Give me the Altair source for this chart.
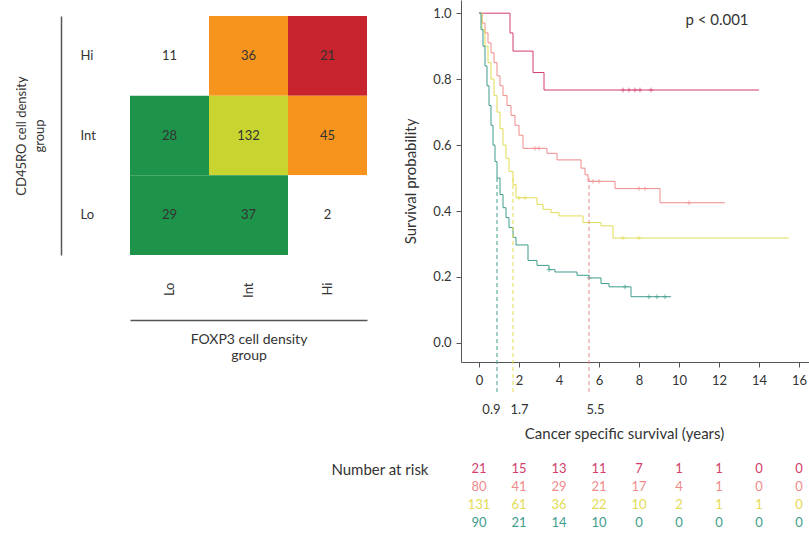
import altair as alt
import pandas as pd

FONT = "Lato"
TXT = "#333333"
FS = 13

# ---------------- Heatmap data ----------------
foxp3_levels = ["Lo", "Int", "Hi"]
cd45ro_levels = ["Hi", "Int", "Lo"]
cell_foxp3 = ["Lo", "Int", "Hi", "Lo", "Int", "Hi", "Lo", "Int", "Hi"]
cell_cd45ro = ["Hi", "Hi", "Hi", "Int", "Int", "Int", "Lo", "Lo", "Lo"]
cell_counts = [11, 36, 21, 28, 132, 45, 29, 37, 2]
cell_group = ["none", "G2", "G1", "G4", "G3", "G2", "G4", "G4", "none"]

# ---------------- Kaplan-Meier data ----------------
group_names = ["G1", "G2", "G3", "G4"]
group_colors = ["#d23d6a", "#ee8b8b", "#e2dc55", "#3f9d8c"]

g1_time = [0, 1.55, 1.7, 2.7, 3.25, 14.0]
g1_surv = [1.0, 0.94, 0.885, 0.82, 0.767, 0.767]

g2_time = [0, 0.15, 0.3, 0.45, 0.6, 0.75, 0.9, 1.05, 1.2, 1.4, 1.6, 1.8, 2.0, 2.2,
           3.4, 3.9, 5.1, 5.3, 5.45, 6.8, 9.05, 12.3]
g2_surv = [1.0, 0.97, 0.94, 0.91, 0.88, 0.85, 0.81, 0.78, 0.75, 0.72, 0.69, 0.66, 0.63, 0.59,
           0.575, 0.555, 0.53, 0.51, 0.49, 0.468, 0.425, 0.425]

g3_time = [0, 0.15, 0.3, 0.45, 0.6, 0.75, 0.9, 1.05, 1.2, 1.35, 1.5, 1.7, 1.85, 2.9, 3.2,
           3.6, 4.0, 5.2, 6.1, 6.7, 15.5]
g3_surv = [1.0, 0.95, 0.9, 0.85, 0.8, 0.75, 0.7, 0.65, 0.6, 0.56, 0.52, 0.48, 0.44, 0.42, 0.405,
           0.395, 0.385, 0.365, 0.355, 0.318, 0.318]

g4_time = [0, 0.1, 0.2, 0.3, 0.4, 0.5, 0.6, 0.7, 0.8, 0.9, 1.05, 1.2, 1.35, 1.5, 1.7, 1.85,
           2.45, 2.9, 3.5, 3.8, 4.9, 5.5, 6.1, 6.5, 7.6, 9.6]
g4_surv = [1.0, 0.95, 0.9, 0.84, 0.78, 0.72, 0.66, 0.6, 0.55, 0.5, 0.45, 0.41, 0.38, 0.35, 0.32,
           0.297, 0.25, 0.235, 0.222, 0.215, 0.205, 0.197, 0.18, 0.17, 0.14, 0.14]

# censoring marks
g1_cens_t = [7.2, 7.5, 7.8, 8.05, 8.6]
g1_cens_s = [0.767, 0.767, 0.767, 0.767, 0.767]
g2_cens_t = [2.8, 3.0, 5.7, 6.0, 8.0, 8.3, 10.5]
g2_cens_s = [0.59, 0.59, 0.49, 0.49, 0.468, 0.468, 0.425]
g3_cens_t = [2.0, 2.3, 7.2, 8.0]
g3_cens_s = [0.44, 0.44, 0.318, 0.318]
g4_cens_t = [3.5, 5.5, 7.3, 8.5, 8.9, 9.3]
g4_cens_s = [0.222, 0.197, 0.17, 0.14, 0.14, 0.14]

median_groups = ["G4", "G3", "G2"]
median_times = [0.9, 1.7, 5.5]

# number at risk
risk_times = [0, 2, 4, 6, 8, 10, 12, 14, 16]
g1_risk = [21, 15, 13, 11, 7, 1, 1, 0, 0]
g2_risk = [80, 41, 29, 21, 17, 4, 1, 0, 0]
g3_risk = [131, 61, 36, 22, 10, 2, 1, 1, 0]
g4_risk = [90, 21, 14, 10, 0, 0, 0, 0, 0]

# ---------------- build tables ----------------
heat_df = pd.DataFrame({"foxp3": cell_foxp3, "cd45ro": cell_cd45ro,
                        "n": cell_counts, "cellgrp": cell_group})

def stack(parts):
    return pd.concat([pd.DataFrame({"t": t, "s": s, "grp": g}) for g, t, s in parts],
                     ignore_index=True)

km_df = stack([("G1", g1_time, g1_surv), ("G2", g2_time, g2_surv),
               ("G3", g3_time, g3_surv), ("G4", g4_time, g4_surv)])
cens_df = stack([("G1", g1_cens_t, g1_cens_s), ("G2", g2_cens_t, g2_cens_s),
                 ("G3", g3_cens_t, g3_cens_s), ("G4", g4_cens_t, g4_cens_s)])
med_df = pd.DataFrame({"m": median_times, "grp": median_groups})
risk_df = pd.concat([pd.DataFrame({"t": risk_times, "n": r, "grp": g}) for g, r in
                     [("G1", g1_risk), ("G2", g2_risk), ("G3", g3_risk), ("G4", g4_risk)]],
                    ignore_index=True)
p_df = pd.DataFrame({"t": [11.9], "s": [0.98], "label": ["p < 0.001"]})

# ---------------- heatmap ----------------
hx = alt.Scale(domain=foxp3_levels, paddingInner=0, paddingOuter=0)
hy = alt.Scale(domain=cd45ro_levels, paddingInner=0, paddingOuter=0, range=[16, 255])
heat_color = alt.Scale(domain=["none", "G1", "G2", "G3", "G4"],
                       range=["#ffffff", "#c8242d", "#f7941d", "#c8d530", "#1d944a"])

rect = alt.Chart(heat_df).mark_rect().encode(
    x=alt.X("foxp3:N", scale=hx,
            axis=alt.Axis(title=None, labelAngle=270, ticks=False, domain=False,
                          labelPadding=27, orient="bottom", grid=False)),
    y=alt.Y("cd45ro:N", scale=hy,
            axis=alt.Axis(title=None, ticks=False, domain=False, labelAlign="left",
                          labelPadding=50, orient="left", grid=False)),
    color=alt.Color("cellgrp:N", scale=heat_color, legend=None),
)
cell_text = alt.Chart(heat_df).mark_text(fontSize=FS, color=TXT, font=FONT).encode(
    x=alt.X("foxp3:N", scale=hx,
            axis=alt.Axis(orient="bottom", offset=65, labels=False, ticks=False, grid=False,
                          domainWidth=1.5, title=["FOXP3 cell density", "group"],
                          titleFontSize=14, titlePadding=12, titleLineHeight=16,
                          titleFontWeight="normal")),
    y=alt.Y("cd45ro:N", scale=hy,
            axis=alt.Axis(orient="left", offset=69, labels=False, ticks=False, grid=False,
                          domainWidth=1.5, title=["CD45RO cell density", "group"],
                          titlePadding=15, titleLineHeight=18, titleFontWeight="normal")),
    text="n:Q",
)
heat = alt.layer(rect, cell_text).resolve_axis(x="independent", y="independent").properties(
    width=237, height=255)

# ---------------- Kaplan-Meier ----------------
kx = alt.Scale(domain=[-0.9, 16.5], nice=False, zero=False)
ky = alt.Scale(domain=[-0.058, 1.04], nice=False, zero=False)
km_color = alt.Scale(domain=group_names, range=group_colors)
y_axis = alt.Axis(values=[0, 0.2, 0.4, 0.6, 0.8, 1.0], format=".1f", title="Survival probability",
                  tickSize=5, labelPadding=5, titlePadding=14, grid=False, titleFontSize=15,
                  titleFontWeight="normal")

lines = alt.Chart(km_df).mark_line(interpolate="step-after", strokeWidth=1).encode(
    x=alt.X("t:Q", scale=kx, axis=alt.Axis(values=list(range(0, 17, 2)), title=None,
                                           tickSize=5, labelPadding=7, orient="bottom",
                                           grid=False)),
    y=alt.Y("s:Q", scale=ky, axis=y_axis),
    color=alt.Color("grp:N", scale=km_color, legend=None),
)
cens = alt.Chart(cens_df).mark_point(shape="M-1,0L1,0M0,-1L0,1", size=22, filled=False,
                                     strokeWidth=1).encode(
    x=alt.X("t:Q", scale=kx, axis=None),
    y=alt.Y("s:Q", scale=ky, axis=y_axis),
    color=alt.Color("grp:N", scale=km_color, legend=None),
)
med = alt.Chart(med_df).mark_rule(strokeDash=[4, 3], strokeWidth=1).encode(
    x=alt.X("m:Q", scale=kx,
            axis=alt.Axis(values=median_times, format=".1f", ticks=False, domain=False,
                          labelPadding=41, labelOverlap=False,
                          labelAlign={"condition": {"test": "datum.value < 1", "value": "right"},
                                      "value": "left"},
                          labelOffset={"condition": {"test": "datum.value < 1", "value": 3},
                                       "value": -3},
                          title="Cancer specific survival (years)", titleFontSize=15,
                          titleX=163, titleAlign="center",
                          titlePadding=10, orient="bottom", grid=False,
                          titleFontWeight="normal")),
    y=alt.Y(datum=0.5, scale=ky, axis=y_axis),
    y2=alt.Y2(datum=-0.15),
    color=alt.Color("grp:N", scale=km_color, legend=None),
)
ptext = alt.Chart(p_df).mark_text(fontSize=15, color=TXT, font=FONT).encode(
    x=alt.X("t:Q", scale=kx, axis=None),
    y=alt.Y("s:Q", scale=ky, axis=y_axis),
    text="label:N",
)
km = alt.layer(lines, cens, med, ptext).resolve_axis(x="independent").properties(
    width=348, height=362)

risk = alt.Chart(risk_df).mark_text(fontSize=FS, font=FONT).encode(
    x=alt.X("t:Q", scale=kx, axis=None),
    y=alt.Y("grp:N", scale=alt.Scale(domain=group_names),
            axis=alt.Axis(title=None, domain=False, ticks=False, labelPadding=33, grid=False,
                          labelFontSize=15,
                          labelExpr="datum.value == 'G1' ? 'Number at risk' : ''")),
    color=alt.Color("grp:N", scale=km_color, legend=None),
    text="n:Q",
).properties(width=348, height=72)

right = alt.vconcat(km, risk, spacing=98, bounds="flush")

chart = alt.hconcat(heat, right, spacing=94, bounds="flush").resolve_scale(
    color="independent"
).properties(
    padding={"left": 15, "top": 0, "right": 0, "bottom": 0},
    background="white",
).configure_view(strokeWidth=0, stroke="transparent").configure_axis(
    labelFont=FONT, titleFont=FONT, labelColor=TXT, titleColor=TXT,
    labelFontSize=FS, titleFontSize=FS, titleFontWeight="normal", grid=False,
    domainColor="#555555", tickColor="#555555"
)

chart.save("out.html", embed_options={"renderer": "svg", "actions": False})
